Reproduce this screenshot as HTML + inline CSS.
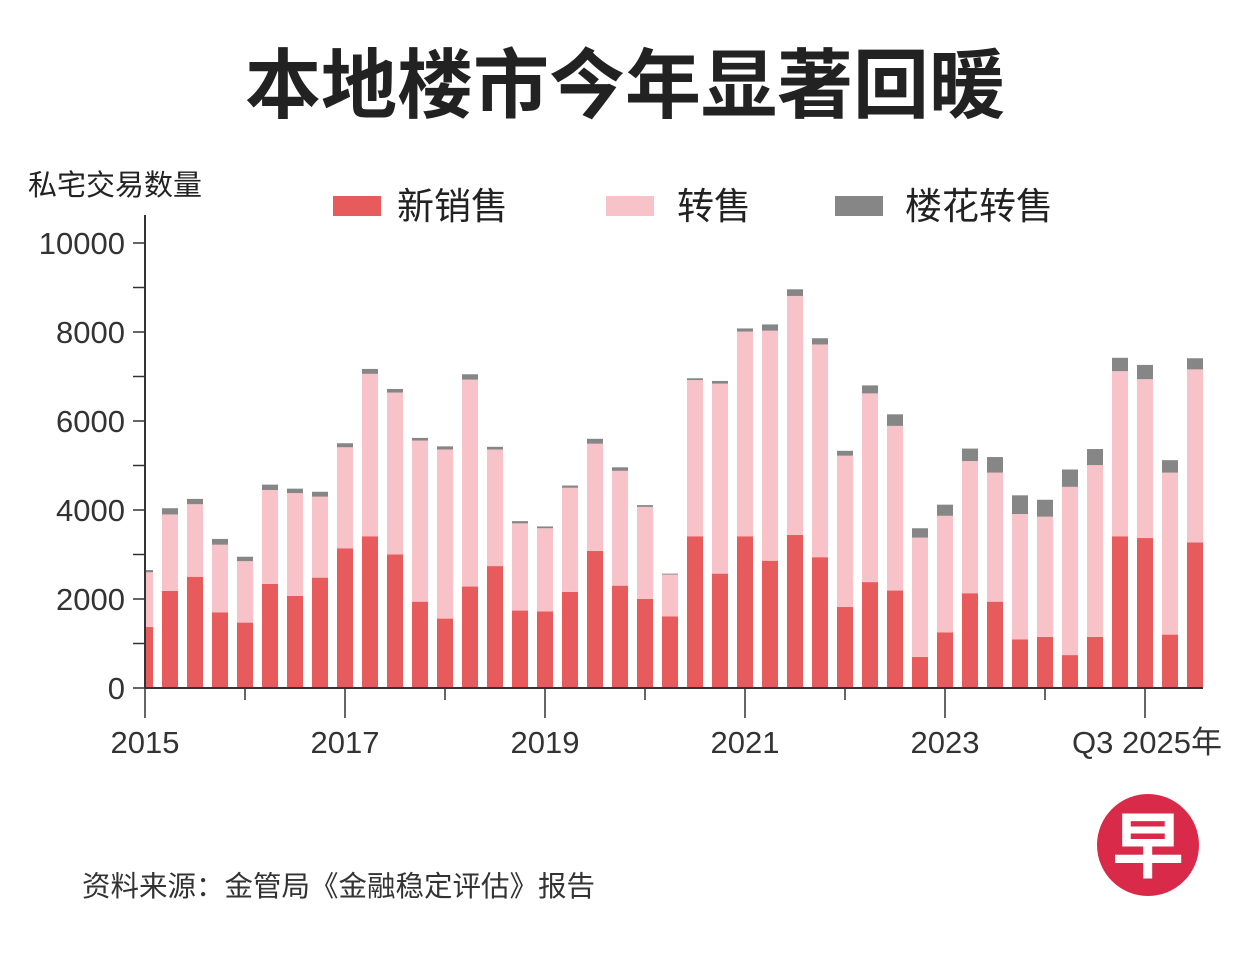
<!DOCTYPE html>
<html><head><meta charset="utf-8">
<style>
body{margin:0;background:#fff;width:1251px;height:948px;overflow:hidden;font-family:"Liberation Sans","Noto Sans CJK SC",sans-serif;}
svg text{font-family:"Liberation Sans","Noto Sans CJK SC",sans-serif;}
</style></head><body>
<svg id="c" width="1251" height="948">
<text x="625" y="112" text-anchor="middle" font-size="76" font-weight="bold" fill="#222">本地楼市今年显著回暖</text>
<text x="28" y="195" font-size="29" fill="#222">私宅交易数量</text>
<g>
<rect x="333" y="196" width="48" height="20" fill="#e85b5c"/>
<text x="397" y="219" font-size="37" fill="#222">新销售</text>
<rect x="606" y="196" width="48" height="20" fill="#f7c3c8"/>
<text x="677" y="219" font-size="37" fill="#222">转售</text>
<rect x="835" y="196" width="48" height="20" fill="#868686"/>
<text x="905" y="219" font-size="37" fill="#222">楼花转售</text>
</g>
<g id="plot"></g>
<text x="82" y="896" font-size="28.5" fill="#333">资料来源：金管局《金融稳定评估》报告</text>
<g>
<circle cx="1148" cy="845" r="51" fill="#d92a4a"/>
<text x="1148" y="872" text-anchor="middle" font-size="72" font-weight="bold" fill="#fff">早</text>
</g>
</svg>
<script>
const newSales=[1370,2180,2500,1700,1470,2340,2070,2480,3140,3410,3000,1940,1560,2280,2740,1740,1720,2160,3080,2300,2000,1610,3410,2570,3410,2860,3440,2940,1820,2380,2190,700,1250,2130,1940,1090,1150,740,1150,3410,3370,1200,3270];
const resale=[1230,1720,1630,1520,1380,2110,2310,1820,2270,3650,3640,3620,3800,4650,2620,1960,1870,2340,2410,2580,2070,940,3510,4270,4600,5170,5370,4780,3400,4240,3700,2680,2620,2970,2900,2820,2700,3780,3860,3710,3570,3640,3890];
const subsale=[50,140,120,130,100,120,100,110,90,110,80,60,70,120,60,50,40,50,110,80,40,20,40,60,70,140,150,140,110,180,260,210,250,280,350,420,380,390,360,300,320,280,250];
const yTicks=[0,2000,4000,6000,8000,10000];
const xLabels=[{q:0,t:"2015"},{q:8,t:"2017"},{q:16,t:"2019"},{q:24,t:"2021"},{q:32,t:"2023"},{q:40,t:"Q3 2025年"}];
const NS="http://www.w3.org/2000/svg";
const x0=145,step=25,bw=16,y0=688,yTop=243;
function X(i){return x0+i*step;}
function Y(v){return y0-(v/10000)*(y0-yTop);}
const g=document.getElementById('plot');
function mk(tag,at){const e=document.createElementNS(NS,tag);for(const k in at)e.setAttribute(k,at[k]);g.appendChild(e);return e;}
newSales.forEach((n,i)=>{
  const r=resale[i],s=subsale[i];
  let xl=X(i)-bw/2,w=bw; if(xl<x0){w-= (x0-xl);xl=x0;}
  const a=mk('rect',{x:xl,y:Y(n),width:w,height:y0-Y(n),fill:'#e85b5c'});
  
  
  const b=mk('rect',{x:xl,y:Y(n+r),width:w,height:Y(n)-Y(n+r),fill:'#f7c3c8'});
  
  
  const c=mk('rect',{x:xl,y:Y(n+r+s),width:w,height:Y(n+r)-Y(n+r+s),fill:'#868686'});
  
  
});
const ya=mk('line',{x1:x0,y1:y0,x2:x0,y2:215,stroke:'#333','stroke-width':2});


for(let v=0;v<=10000;v+=1000){mk('line',{x1:x0-12,y1:Y(v),x2:x0,y2:Y(v),stroke:'#333','stroke-width':1.5});}
yTicks.forEach(v=>{
  const t=mk('text',{x:x0-20,y:Y(v)+11,'text-anchor':'end','font-size':31,fill:'#333'});
  t.textContent=v;
  
  
});
const xa=mk('line',{x1:x0,y1:y0,x2:X(newSales.length-1)+bw/2,y2:y0,stroke:'#333','stroke-width':2});


for(let q=0;q<newSales.length;q+=4){mk('line',{x1:X(q),y1:y0,x2:X(q),y2:y0+(q%8==0?30:12),stroke:'#333','stroke-width':1.5});}
xLabels.forEach(l=>{
  const t=mk('text',{x:X(l.q),y:753,'text-anchor':'middle','font-size':31,fill:'#333'});
  if(l.q===40)t.setAttribute('x',X(l.q)+2);
  t.textContent=l.t;
  
  
});
</script>
</body></html>
